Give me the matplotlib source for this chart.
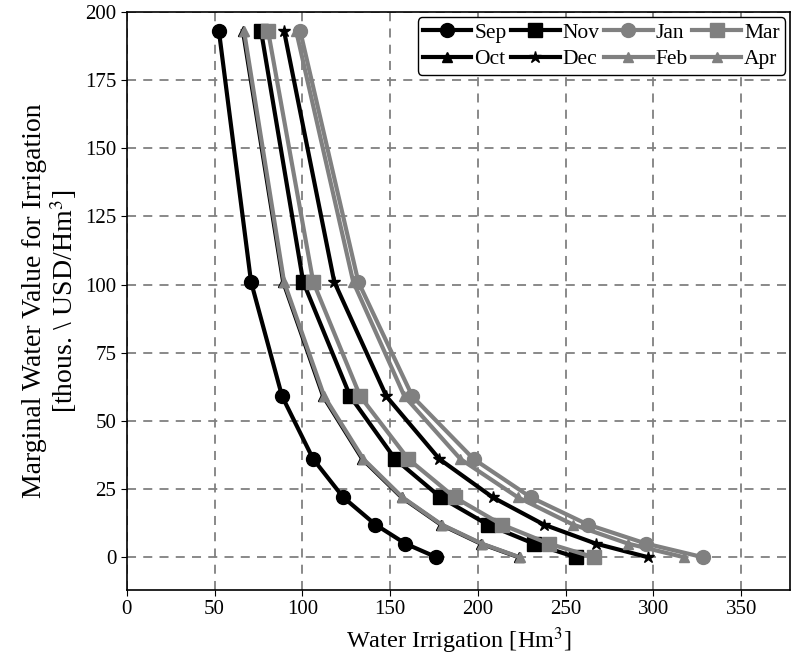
import matplotlib
matplotlib.use("Agg")
import matplotlib.pyplot as plt
import numpy as np

plt.rcParams['font.family'] = ['Liberation Serif', 'DejaVu Serif']
plt.rcParams['mathtext.fontset'] = 'stix'

# marginal value levels (thous. USD/Hm3)
mwv = [193, 101, 59, 36, 22, 12, 5, 0]

# water irrigation (Hm3) per month
sep = [52.5, 70.8, 88.5, 106.2, 123.3, 141.6, 158.7, 176.4]
oct_ = [66.2, 89.1, 111.9, 134.2, 156.5, 178.8, 201.6, 223.3]
nov = [76.5, 100.5, 127.3, 152.9, 178.7, 205.5, 231.8, 255.8]
dec = [89.6, 118.2, 147.9, 178.1, 208.4, 237.5, 267.2, 296.9]
jan = [98.8, 131.9, 162.7, 197.6, 230.1, 262.6, 295.8, 328.3]
feb = [66.8, 89.6, 112.5, 134.8, 157.0, 179.3, 202.2, 223.8]
mar = [80.5, 106.2, 133.0, 160.4, 186.7, 213.5, 240.4, 266.1]
apr = [96.5, 129.0, 158.2, 190.1, 222.7, 254.1, 285.5, 317.5]

months = ['Sep', 'Oct', 'Nov', 'Dec', 'Jan', 'Feb', 'Mar', 'Apr']
series = [sep, oct_, nov, dec, jan, feb, mar, apr]
colors = ['black'] * 4 + ['#808080'] * 4
markers = ['o', '^', 's', '*', 'o', '^', 's', '^']
msizes = [10, 7, 9.5, 9, 10, 7, 9.5, 7]

fig = plt.figure(figsize=(7.92, 6.57), dpi=100)
ax = fig.add_axes([0.160, 0.102, 0.838, 0.880])

for name, xs, c, m, ms in zip(months, series, colors, markers, msizes):
    ax.plot(xs, mwv, color=c, lw=3, marker=m, markersize=ms,
            markeredgecolor=c, markerfacecolor=c, label=name)

ax.set_xlim(0, 378)
ax.set_ylim(-12, 200)
ax.set_xticks(np.arange(0, 351, 50))
ax.set_yticks(np.arange(0, 201, 25))
ax.tick_params(labelsize=15, direction='out', length=4)
ax.grid(True, color='#808080', linestyle=(0, (5, 4)), linewidth=1.3)
ax.set_axisbelow(True)
for s in ax.spines.values():
    s.set_linewidth(1.2)

ax.set_xlabel('Water Irrigation [Hm$^3$]', fontsize=17.5)
ax.set_ylabel('Marginal Water Value for Irrigation\n' + r'[thous. \ USD/Hm$^3$]',
              fontsize=20, linespacing=1.05)

leg = ax.legend(ncol=4, loc='upper right', fontsize=15.5, handlelength=2.25,
                columnspacing=0.2, handletextpad=0.15, borderpad=0.25,
                labelspacing=0.3, borderaxespad=0.25, framealpha=1,
                edgecolor='black', fancybox=True)
leg.get_frame().set_linewidth(1.0)

fig.savefig('out.png', dpi=100)
